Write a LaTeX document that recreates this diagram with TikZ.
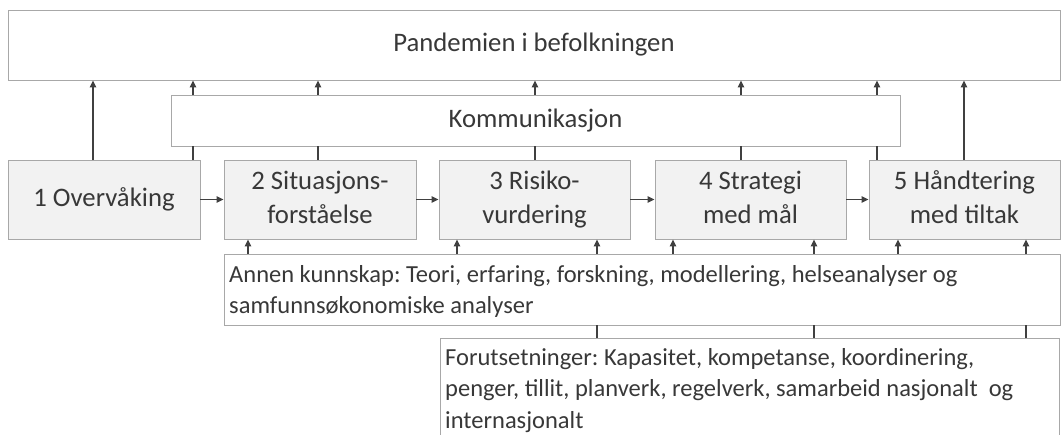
\documentclass[tikz,border=0pt]{standalone}
\usepackage{fontspec}
\setmainfont{Carlito}
\usetikzlibrary{arrows.meta}
\definecolor{bord}{HTML}{A8A8A8}
\definecolor{fillg}{HTML}{F2F2F2}
\definecolor{ink}{HTML}{404040}
\definecolor{txt}{HTML}{383838}
\frenchspacing
\begin{document}
\begin{tikzpicture}[x=1pt,y=-1pt,
  box/.style={draw=bord, line width=0.9pt, rectangle, inner sep=0pt, text=txt},
  bigfont/.style={font=\fontsize{26.7}{34.4}\selectfont},
  stepbox/.style={box, fill=fillg, minimum height=79pt, align=center, bigfont},
  smalltext/.style={inner sep=0pt, anchor=base west, text=txt, font=\fontsize{24.5}{31}\selectfont},
  arr/.style={draw=ink, line width=1.4pt, -{Triangle[length=7pt,width=6.5pt]}},
  ln/.style={draw=ink, line width=1.4pt}]
\useasboundingbox (0,0) rectangle (1061,435);
\clip (0,0) rectangle (1061,435);
% boxes
\node[box, bigfont, minimum width=1052pt, minimum height=70pt] (top) at (534,45) {\raisebox{-1.5pt}{Pandemien i befolkningen}};
\node[box, bigfont, minimum width=729pt, minimum height=51pt] (comm) at (535.5,120.5) {Kommunikasjon};
\node[stepbox, minimum width=192pt] (s1) at (104,199.5) {\raisebox{-4.5pt}{1 Overvåking}};
\node[stepbox, minimum width=192pt] (s2) at (320,199.5) {\strut 2 Situasjons-\\\strut forståelse};
\node[stepbox, minimum width=191pt] (s3) at (534.5,199.5) {\strut 3 Risiko-\\\strut vurdering};
\node[stepbox, minimum width=191pt] (s4) at (750.5,199.5) {\strut 4 Strategi\\\strut med mål};
\node[stepbox, minimum width=191pt] (s5) at (964.5,199.5) {\strut 5 Håndtering\\\strut med tiltak};
\node[box, minimum width=836pt, minimum height=71pt] (ann) at (642,289.5) {};
\node[box, minimum width=619pt, minimum height=122pt] (fo) at (749.5,399) {};
% texts of the lower boxes
\node[smalltext] (ann1) at (229,282.5) {Annen kunnskap: Teori, erfaring, forskning, modellering, helseanalyser og};
\node[smalltext] (ann2) at (229,314) {samfunnsøkonomiske analyser};
\node[smalltext] (fo1) at (445,366) {Forutsetninger: Kapasitet, kompetanse, koordinering,};
\node[smalltext] (fo2) at (445,397) {penger, tillit, planverk, regelverk, samarbeid nasjonalt\ \ og};
\node[smalltext] (fo3) at (445,428.5) {internasjonalt};
% horizontal flow
\draw[arr] (s1.east) -- (s2.west);
\draw[arr] (s2.east) -- (s3.west);
\draw[arr] (s3.east) -- (s4.west);
\draw[arr] (s4.east) -- (s5.west);
% direct arrows to top
\draw[arr] (93,0 |- s1.north) -- (93,0 |- top.south);
\draw[arr] (964,0 |- s5.north) -- (964,0 |- top.south);
% steps to communication
\draw[ln] (193,0 |- s1.north) -- (193,0 |- comm.south);
\draw[ln] (318,0 |- s2.north) -- (318,0 |- comm.south);
\draw[ln] (535,0 |- s3.north) -- (535,0 |- comm.south);
\draw[ln] (741,0 |- s4.north) -- (741,0 |- comm.south);
\draw[ln] (877,0 |- s5.north) -- (877,0 |- comm.south);
% communication to top
\foreach \x in {193,318,535,741,877}
  \draw[arr] (\x,0 |- comm.north) -- (\x,0 |- top.south);
% knowledge to steps
\draw[arr] (248,0 |- ann.north) -- (248,0 |- s2.south);
\draw[arr] (457,0 |- ann.north) -- (457,0 |- s3.south);
\draw[arr] (597,0 |- ann.north) -- (597,0 |- s3.south);
\draw[arr] (673,0 |- ann.north) -- (673,0 |- s4.south);
\draw[arr] (814,0 |- ann.north) -- (814,0 |- s4.south);
\draw[arr] (898,0 |- ann.north) -- (898,0 |- s5.south);
\draw[arr] (1026,0 |- ann.north) -- (1026,0 |- s5.south);
% prerequisites to knowledge
\foreach \x in {597,814,1026}
  \draw[ln] (\x,0 |- fo.north) -- (\x,0 |- ann.south);
\end{tikzpicture}
\end{document}
